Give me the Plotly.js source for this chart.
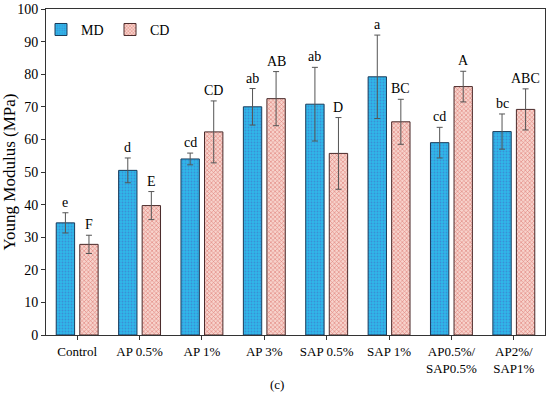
<!DOCTYPE html>
<html><head><meta charset="utf-8">
<script src="https://cdn.plot.ly/plotly-3.0.1.min.js"></script>
<style>body{margin:0;background:#fff}#c{width:550px;height:396px}</style>
</head><body><div id="c"></div>
<script>
const categories = ["Control","AP 0.5%","AP 1%","AP 3%","SAP 0.5%","SAP 1%","AP0.5%/<br>SAP0.5%","AP2%/<br>SAP1%"];
const mdValues = [34.4, 50.5, 54.0, 70.0, 70.8, 79.2, 59.0, 62.4];
const mdErrors = [3.1, 3.8, 1.8, 5.6, 11.3, 12.8, 4.7, 5.4];
const cdValues = [27.8, 39.7, 62.3, 72.5, 55.7, 65.4, 76.2, 69.2];
const cdErrors = [2.8, 4.3, 9.5, 8.3, 11.0, 6.9, 4.7, 6.3];
const mdLetters = ["e","d","cd","ab","ab","a","cd","bc"];
const cdLetters = ["F","E","CD","AB","D","BC","A","ABC"];

const bargap = 0.245;
const font = "Liberation Serif";
const idx = categories.map((_, i) => i);
const slot = (1 - bargap) / 2;

const traces = [
  {type:"bar", name:"MD", x: idx, y: mdValues,
   error_y:{type:"data", array: mdErrors, color:"#555", thickness:1, width:3},
   marker:{color:"#2fb3e6", line:{color:"#1a3b5a", width:1},
           pattern:{shape:".", fgcolor:"#3a8fd6", bgcolor:"#2fb8ea", size:3, solidity:0.3}}},
  {type:"bar", name:"CD", x: idx, y: cdValues,
   error_y:{type:"data", array: cdErrors, color:"#555", thickness:1, width:3},
   marker:{color:"#f2b8b0", line:{color:"#4a2a2a", width:1},
           pattern:{shape:"x", fgcolor:"#e08078", bgcolor:"#f7d3cc", size:3, solidity:0.35}}}
];

const annotations = [];
idx.forEach(i => {
  annotations.push({x: i - slot/2, y: mdValues[i] + mdErrors[i], text: mdLetters[i], showarrow:false,
    yanchor:"bottom", yshift:1, font:{family:font, size:14, color:"#000"}});
  annotations.push({x: i + slot/2, y: cdValues[i] + cdErrors[i], text: cdLetters[i], showarrow:false,
    yanchor:"bottom", yshift:1, font:{family:font, size:14, color:"#000"}});
});
annotations.push({xref:"paper", yref:"paper", x:0.462, y:-0.153, text:"(c)", showarrow:false,
  yanchor:"middle", font:{family:font, size:13, color:"#000"}});

const layout = {
  width:550, height:396,
  margin:{l:46, r:5, t:9, b:61},
  paper_bgcolor:"#fff", plot_bgcolor:"#fff",
  barmode:"group", bargap: bargap, bargroupgap: 0.22,
  font:{family:font, color:"#000"},
  showlegend:true,
  legend:{orientation:"h", x:-0.01, y:0.985, xanchor:"left", yanchor:"top",
          font:{family:font, size:14, color:"#000"}, bgcolor:"rgba(0,0,0,0)",
          itemwidth:30, entrywidth:24, entrywidthmode:"pixels", tracegroupgap:0},
  xaxis:{range:[-0.5, 7.5], tickvals: idx, ticktext: categories, tickson:"boundaries",
         ticks:"outside", ticklen:4, tickcolor:"#333", showline:true, linecolor:"#333", mirror:true,
         showgrid:false, zeroline:false, tickfont:{family:font, size:13, color:"#000"}, tickangle:0},
  yaxis:{range:[0, 100], dtick:10, ticks:"outside", ticklen:4, tickcolor:"#333",
         showline:true, linecolor:"#333", mirror:true, showgrid:false, zeroline:false,
         tickfont:{family:font, size:14, color:"#000"},
         title:{text:"Young Modulus (MPa)", font:{family:font, size:17, color:"#000"}, standoff:3}},
  annotations: annotations
};

Plotly.newPlot("c", traces, layout, {displayModeBar:false, staticPlot:true});
</script></body></html>
